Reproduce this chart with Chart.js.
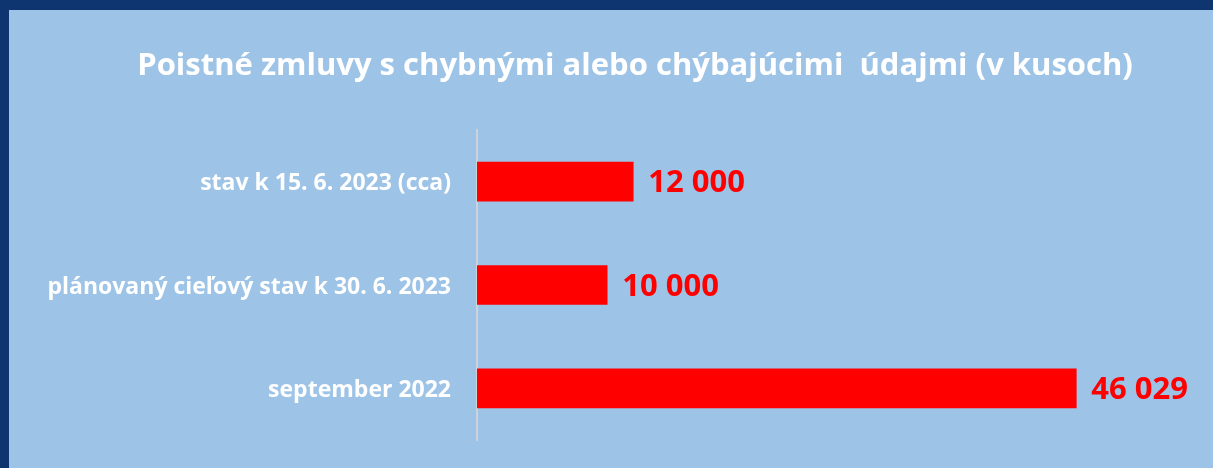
<!DOCTYPE html>
<html>
<head>
<meta charset="utf-8">
<script src="https://cdn.jsdelivr.net/npm/chart.js@4.4.1/dist/chart.umd.min.js"></script>
<style>
  html, body { margin: 0; padding: 0; background: #0E3570; }
  #wrap {
    position: absolute;
    left: 9px; top: 10px;
    width: 1204px; height: 458px;
    background: #9DC3E6;
  }
  canvas { display: block; }
</style>
</head>
<body>
<div id="wrap"><canvas id="chart" width="1204" height="458"></canvas></div>
<script>
const titleText = 'Poistné zmluvy s chybnými alebo chýbajúcimi  údajmi (v kusoch)';
const categories = [
  'stav k 15. 6. 2023 (cca)',
  'plánovaný cieľový stav k 30. 6. 2023',
  'september 2022'
];
const counts = [12000, 10000, 46029];

// numbers with a space as thousands separator
function fmt(v) {
  return String(v).replace(/\B(?=(\d{3})+(?!\d))/g, ' ');
}

// title drawn by hand so it can sit off the plot centre like the original
const titlePlugin = {
  id: 'topTitle',
  afterDraw(chart) {
    const ctx = chart.ctx;
    ctx.save();
    ctx.font = 'bold 31px "Open Sans"';
    ctx.fillStyle = '#FFFFFF';
    ctx.textAlign = 'center';
    ctx.textBaseline = 'alphabetic';
    ctx.fillText(titleText, 626, 65);
    ctx.restore();
  }
};

const valueLabels = {
  id: 'valueLabels',
  afterDatasetsDraw(chart) {
    const ctx = chart.ctx;
    const meta = chart.getDatasetMeta(0);
    ctx.save();
    ctx.font = 'bold 31px "Open Sans"';
    ctx.fillStyle = '#FF0000';
    ctx.textAlign = 'left';
    ctx.textBaseline = 'middle';
    meta.data.forEach((bar, i) => {
      ctx.fillText(fmt(counts[i]), bar.x + 15, bar.y + 2);
    });
    ctx.restore();
  }
};

const ctx = document.getElementById('chart').getContext('2d');
const chart = new Chart(ctx, {
  type: 'bar',
  data: {
    labels: categories,
    datasets: [{
      data: counts,
      backgroundColor: '#FF0000',
      borderWidth: 0,
      barThickness: 39
    }]
  },
  options: {
    indexAxis: 'y',
    responsive: false,
    animation: false,
    layout: { padding: { top: 120, right: 85, bottom: 28, left: 0 } },
    scales: {
      x: {
        display: false,
        min: 0,
        max: 50000
      },
      y: {
        // invisible tick marks give the label gap without padding the plot
        grid: {
          display: true,
          drawOnChartArea: false,
          drawTicks: true,
          tickLength: 26,
          color: 'rgba(0,0,0,0)'
        },
        border: { display: true, color: '#CDD3DA', width: 2 },
        ticks: {
          color: '#FFFFFF',
          padding: 0,
          labelOffset: 2,
          font: { family: 'Open Sans', size: 23, weight: 'bold' }
        },
        afterFit(scale) { scale.width = 468; }
      }
    },
    plugins: {
      legend: { display: false },
      tooltip: { enabled: false },
      title: { display: false }
    }
  },
  plugins: [titlePlugin, valueLabels]
});
</script>
</body>
</html>
